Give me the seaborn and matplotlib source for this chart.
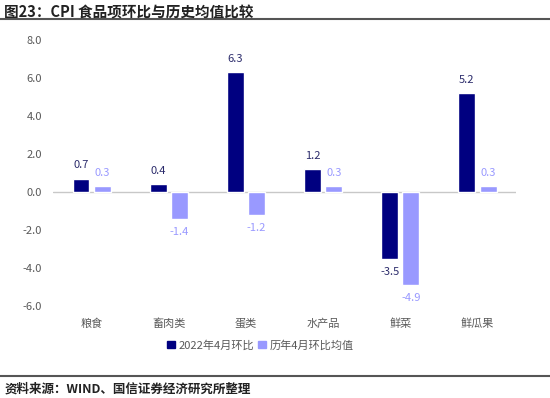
import matplotlib
matplotlib.use("Agg")
import matplotlib.pyplot as plt
import numpy as np
import pandas as pd
import seaborn as sns
from matplotlib.lines import Line2D

categories = ["粮食", "畜肉类", "蛋类", "水产品", "鲜菜", "鲜瓜果"]
series_names = ["2022年4月环比", "历年4月环比均值"]
mom_2022_apr = [0.7, 0.4, 6.3, 1.2, -3.5, 5.2]
hist_apr_avg = [0.3, -1.4, -1.2, 0.3, -4.9, 0.3]
y_ticks = [-6.0, -4.0, -2.0, 0.0, 2.0, 4.0, 6.0, 8.0]

title = "图23：CPI 食品项环比与历史均值比较"
source = "资料来源：WIND、国信证券经济研究所整理"

dark = "#000080"
light = "#9999FF"
gray = "#595959"

sns.set_style("white")
plt.rcParams["font.family"] = ["Noto Sans CJK SC", "DejaVu Sans"]

df = pd.DataFrame({
    "category": categories * 2,
    "series": [series_names[0]] * len(categories) + [series_names[1]] * len(categories),
    "value": mom_2022_apr + hist_apr_avg,
})

fig = plt.figure(figsize=(5.5, 3.98), dpi=100)
ax = fig.add_axes([0.0964, 0.231, 0.8418, 0.6685])

sns.barplot(data=df, x="category", y="value", hue="series",
            palette=[dark, light], saturation=1, width=0.55, gap=0.2,
            order=categories, hue_order=series_names, ax=ax, legend=False)

ax.set_ylim(-6, 8)
ax.set_yticks(y_ticks)
ax.set_yticklabels([f"{t:.1f}" for t in y_ticks])
ax.set_xlim(-0.5, len(categories) - 0.5)
ax.set_xlabel("")
ax.set_ylabel("")
for s in ax.spines.values():
    s.set_visible(False)
ax.axhline(0, color="#c8c8c8", lw=1, zorder=0)
ax.tick_params(axis="both", length=0, colors=gray, labelsize=8)
ax.tick_params(axis="x", pad=9)
ax.tick_params(axis="y", pad=8)

label_colors = ["#2b2b6b", light]
for cont, col in zip(ax.containers, label_colors):
    ax.bar_label(cont, fmt="%.1f", padding=6, color=col, fontsize=8)

handles = [plt.Rectangle((0, 0), 1, 1, color=c) for c in (dark, light)]
fig.legend(handles, series_names, loc="center", bbox_to_anchor=(0.473, 0.133),
           ncol=2, frameon=False, fontsize=8, handlelength=0.7, handleheight=0.7,
           handletextpad=0.3, columnspacing=0.4, labelcolor=gray)

fig.text(0.008, 0.968, title, fontsize=10.5, fontweight="bold", va="center", color="#222222")
fig.add_artist(Line2D([0, 1], [0.952, 0.952], color="#555555", lw=1.5))
fig.add_artist(Line2D([0, 1], [0.055, 0.055], color="#555555", lw=1.5))
fig.text(0.008, 0.022, source, fontsize=9, fontweight="bold", va="center", color="#222222")

fig.savefig("out.png", dpi=100)
